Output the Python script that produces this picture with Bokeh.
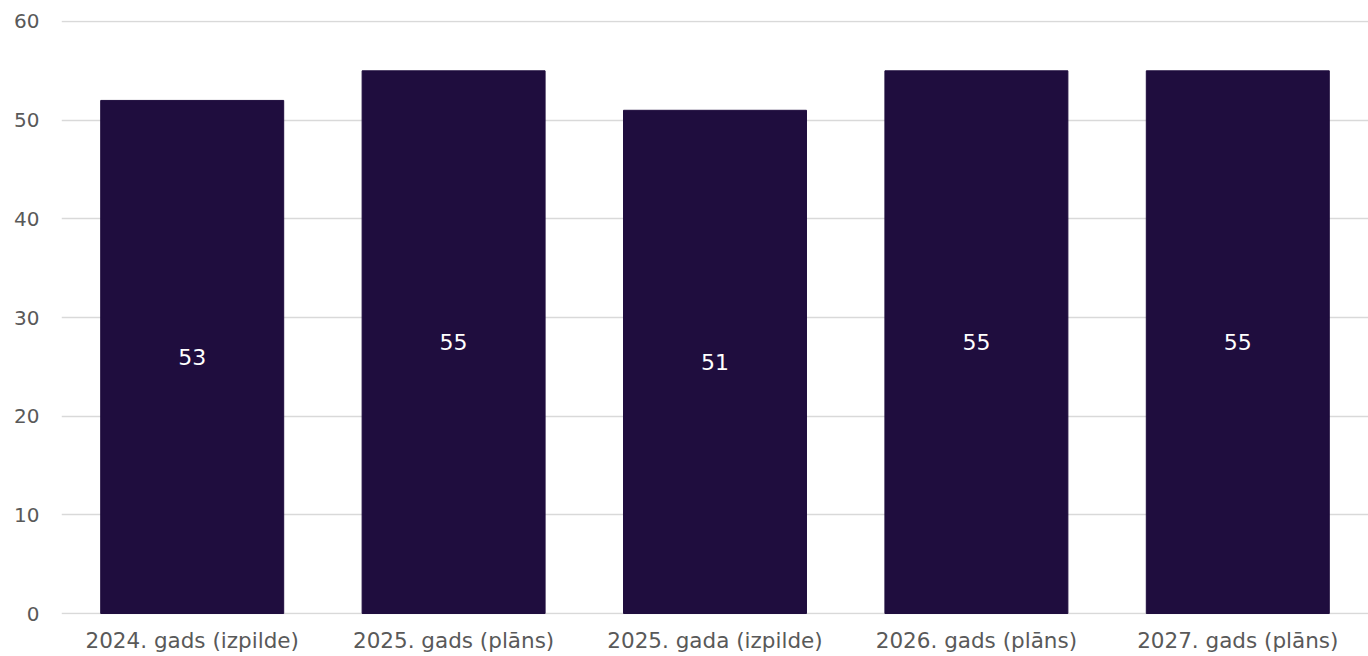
from bokeh.plotting import figure
from bokeh.models import Range1d, ColumnDataSource, FactorRange
from bokeh.embed import file_html
from bokeh.resources import INLINE
from bokeh.core.properties import value

categories = ["2024. gads (izpilde)", "2025. gads (plāns)", "2025. gada (izpilde)",
              "2026. gads (plāns)", "2027. gads (plāns)"]
values = [52, 55, 51, 55, 55]
labels = ["53", "55", "51", "55", "55"]
y_ticks = [0, 10, 20, 30, 40, 50, 60]

FONT = "DejaVu Sans"
src = ColumnDataSource(dict(x=categories, top=values, mid=[v / 2 for v in values], lab=labels))

p = figure(width=1368, height=656, output_backend="svg", toolbar_location=None,
           x_range=FactorRange(factors=categories, range_padding=0),
           y_range=Range1d(-0.1, 60.1),
           min_border_left=61, min_border_right=0, min_border_top=20, min_border_bottom=42)
p.outline_line_color = None
p.background_fill_color = "white"

p.vbar(x="x", top="top", width=0.7, source=src, color="#1f0d3e")
p.text(x="x", y="mid", text="lab", source=src, text_color="white",
       text_font=value(FONT), text_font_size="22px", text_align="center", text_baseline="middle")

p.xgrid.grid_line_color = None
p.ygrid.grid_line_color = "#d9d9d9"
p.ygrid.grid_line_width = 1.5
p.ygrid.level = "underlay"
p.yaxis.ticker = y_ticks
p.axis.axis_line_color = None
p.axis.major_tick_line_color = None
p.axis.minor_tick_line_color = None
p.axis.major_label_text_font = FONT
p.axis.major_label_text_color = "#595959"
p.yaxis.major_label_text_font_size = "20px"
p.xaxis.major_label_text_font_size = "21.5px"
p.yaxis.major_label_standoff = 16
p.xaxis.major_label_standoff = 7

open("out.html", "w").write(file_html(p, INLINE))
